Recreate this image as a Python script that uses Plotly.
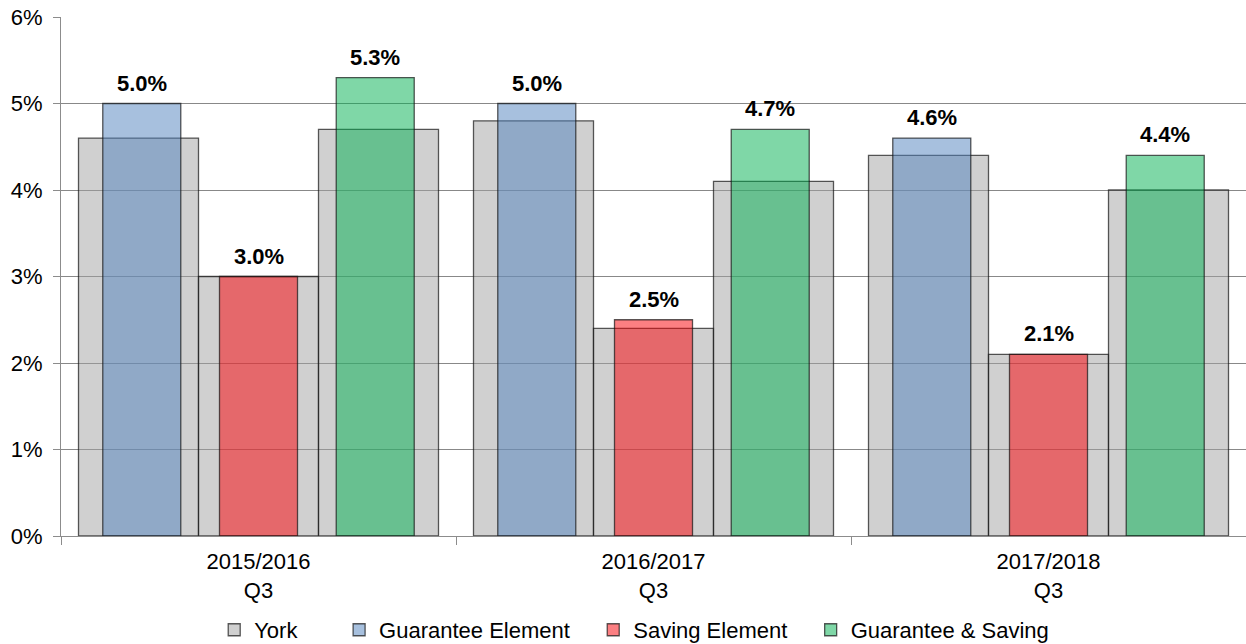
import plotly.graph_objects as go

# ---- data ----
periods = ["2015/2016<br>Q3", "2016/2017<br>Q3", "2017/2018<br>Q3"]
series_names = ["Guarantee Element", "Saving Element", "Guarantee & Saving"]
york_guarantee = [4.6, 4.8, 4.4]
york_saving = [3.0, 2.4, 2.1]
york_gs = [4.7, 4.1, 4.0]
guarantee = [5.0, 5.0, 4.6]
saving = [3.0, 2.5, 2.1]
guar_saving = [5.3, 4.7, 4.4]

# ---- layout constants ----
york_step = 0.3038
york_width = 0.3038
col_step = 0.2955
col_width = 0.1975
FONT = "Liberation Sans, Arial, sans-serif"
FS = 22

york_by_series = [york_guarantee, york_saving, york_gs]
col_by_series = [guarantee, saving, guar_saving]
fills = ["rgba(79,129,189,0.5)", "rgba(250,0,5,0.5)", "rgba(0,175,80,0.5)"]
outline = dict(color="rgba(20,20,20,0.7)", width=1.3)

fig = go.Figure()

# York bars
yx, yy = [], []
for i in range(len(periods)):
    for j in range(3):
        yx.append(i + 0.5 + (j - 1) * york_step)
        yy.append(york_by_series[j][i])
fig.add_trace(go.Bar(
    x=yx, y=yy, width=york_width, name="York" + "\u00a0" * 6,
    marker=dict(color="rgba(162,162,162,0.5)", line=outline),
    hoverinfo="skip",
))

annotations = []
for j, (name, vals) in enumerate(zip(series_names, col_by_series)):
    xs = [i + 0.5 + (j - 1) * col_step for i in range(len(periods))]
    nm = name + ("\u00a0" * 3 if j < 2 else "")
    fig.add_trace(go.Bar(
        x=xs, y=vals, width=col_width, name=nm,
        marker=dict(color=fills[j], line=outline),
        hoverinfo="skip",
    ))
    for x, v in zip(xs, vals):
        annotations.append(dict(
            x=x, y=v, xref="x", yref="y", text=f"<b>{v:.1f}%</b>",
            showarrow=False, yanchor="bottom", yshift=6,
            font=dict(family=FONT, size=FS, color="black"),
        ))

fig.update_layout(
    barmode="overlay",
    width=1246, height=644,
    margin=dict(l=61, r=0, t=17, b=108, autoexpand=False),
    plot_bgcolor="white", paper_bgcolor="white",
    font=dict(family=FONT, size=FS, color="black"),
    annotations=annotations,
    showlegend=True,
    legend=dict(
        orientation="h", xref="container", yref="paper",
        x=0.509, xanchor="center", y=-0.181, yanchor="middle",
        font=dict(family=FONT, size=FS, color="black"),
        itemwidth=30, traceorder="normal",
    ),
    xaxis=dict(
        range=[0, 3], tickvals=[0.5, 1.5, 2.5], ticktext=periods,
        ticks="", showgrid=False, zeroline=False, automargin=False,
        showline=True, linecolor="#8c8c8c", linewidth=1,
        minor=dict(tick0=0, dtick=1, ticks="outside", ticklen=8,
                   tickcolor="#8c8c8c", showgrid=False),
        ticklabelstandoff=6, fixedrange=True,
    ),
    yaxis=dict(
        range=[0, 6], dtick=1, ticksuffix="%", automargin=False,
        showgrid=True, gridcolor="#888888", gridwidth=1,
        zeroline=False, showline=True, linecolor="#8c8c8c", linewidth=1,
        ticks="outside", ticklen=7, tickcolor="#8c8c8c",
        ticklabelstandoff=6, fixedrange=True,
    ),
)

fig.write_html(
    "out.html",
    config={"displayModeBar": False},
    post_script="document.body.style.margin='0px';document.body.style.overflow='hidden';",
)
